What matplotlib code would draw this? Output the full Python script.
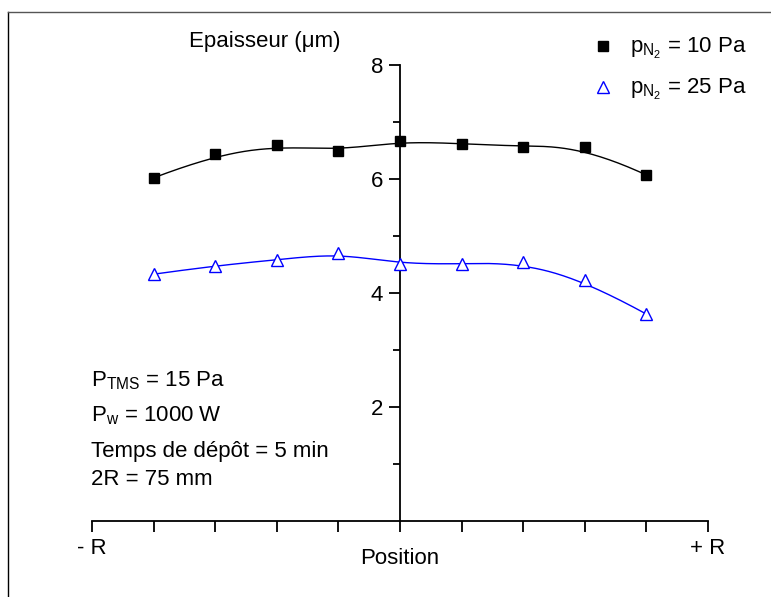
import numpy as np
import matplotlib
matplotlib.use("Agg")
import matplotlib.pyplot as plt
from matplotlib.lines import Line2D

plt.rcParams['font.family'] = ['Liberation Sans', 'DejaVu Sans']
plt.rcParams['mathtext.fontset'] = 'custom'
plt.rcParams['mathtext.rm'] = 'Liberation Sans'
plt.rcParams['mathtext.it'] = 'Liberation Sans'

# ---- data ----
positions = [-4, -3, -2, -1, 0, 1, 2, 3, 4]
thick_10pa = [6.02, 6.43, 6.59, 6.50, 6.66, 6.62, 6.57, 6.57, 6.07]
thick_25pa = [4.33, 4.48, 4.58, 4.70, 4.51, 4.51, 4.54, 4.22, 3.63]
label_10 = r'p$_{\mathrm{N}_{2}}$ = 10 Pa'
label_25 = r'p$_{\mathrm{N}_{2}}$ = 25 Pa'
xtick_vals = list(range(-5, 6))
xtick_labels = ['- R', '', '', '', '', '', '', '', '', '', '+ R']
ytick_major = [2, 4, 6, 8]
ytick_minor = [1, 3, 5, 7]
notes = [r'P$_{\mathrm{TMS}}$ = 15 Pa', r'P$_{\mathrm{w}}$ = 1000 W',
         'Temps de dépôt = 5 min', '2R = 75 mm']

FS = 16


def bspline_basis(x, knots, k):
    n = len(knots) - k - 1
    B = np.zeros((len(x), len(knots) - 1))
    for i in range(len(knots) - 1):
        if knots[i] < knots[i + 1]:
            B[:, i] = (x >= knots[i]) & (x < knots[i + 1])
    last = np.where(knots[:-1] < knots[1:])[0][-1]
    B[x >= knots[-1], last] = 1.0
    for d in range(1, k + 1):
        Bn = np.zeros((len(x), len(knots) - 1 - d))
        for i in range(len(knots) - 1 - d):
            t = np.zeros(len(x))
            den1 = knots[i + d] - knots[i]
            den2 = knots[i + d + 1] - knots[i + 1]
            if den1 > 0:
                t += (x - knots[i]) / den1 * B[:, i]
            if den2 > 0:
                t += (knots[i + d + 1] - x) / den2 * B[:, i + 1]
            Bn[:, i] = t
        B = Bn
    return B[:, :n]


def control_bspline(xs, ys, k=3):
    """Clamped cubic B-spline using the data points as control points."""
    m = len(xs)
    knots = np.r_[[0.0] * (k + 1), np.arange(1, m - k), [m - k] * (k + 1)].astype(float)
    t = np.linspace(0, m - k, 400)
    B = bspline_basis(t, knots, k)
    return B @ np.asarray(xs, float), B @ np.asarray(ys, float)


fig = plt.figure(figsize=(7.71, 5.97), dpi=100)
ax = fig.add_axes([92 / 771, 1 - 521 / 597, (708 - 92) / 771, (521 - 65) / 597])
ax.set_xlim(-5, 5)
ax.set_ylim(0, 8)

xf, yf = control_bspline(positions, thick_10pa)
ax.plot(xf, yf, color='black', lw=1.0, zorder=2)
xf, yf = control_bspline(positions, thick_25pa)
ax.plot(xf, yf, color='#0000ff', lw=1.0, zorder=2)

ax.plot(positions, thick_10pa, ls='none', marker='s', ms=7, color='black', zorder=3)
ax.plot(positions, thick_25pa, ls='none', marker='^', ms=9, mfc='white',
        mec='#0000ff', mew=1.0, zorder=3)

for s in ['top', 'right']:
    ax.spines[s].set_visible(False)
ax.spines['left'].set_position(('data', 0))
ax.spines['bottom'].set_position(('data', 0))
ax.spines['left'].set_linewidth(1.3)
ax.spines['bottom'].set_linewidth(1.3)

ax.set_xticks(xtick_vals)
ax.set_xticklabels(xtick_labels)
ax.set_yticks(ytick_major)
ax.set_yticks(ytick_minor, minor=True)
ax.tick_params(axis='x', direction='out', length=8, width=1.3, pad=4, labelsize=FS)
ax.tick_params(axis='y', which='major', direction='out', length=8, width=1.3, pad=4, labelsize=FS)
ax.tick_params(axis='y', which='minor', direction='out', length=5, width=1.3)

ax.set_xlabel('Position', fontsize=FS)
ax.xaxis.set_label_coords(0.5, -0.06)
fig.text(265 / 771, 1 - 42 / 597, 'Epaisseur (μm)', fontsize=FS, ha='center', va='center')

for (mk, kw), lab, yy in zip(
        [('s', dict(ms=7, color='black')),
         ('^', dict(ms=9, mfc='white', mec='#0000ff', mew=1.0))],
        [label_10, label_25], [53, 94]):
    fig.add_artist(Line2D([603 / 771], [1 - (yy - 7) / 597], ls='none', marker=mk,
                          transform=fig.transFigure, **kw))
    fig.text(630 / 771, 1 - yy / 597, lab, fontsize=FS, ha='left', va='baseline')

ys = [386, 421, 457, 485]
for txt, yy in zip(notes, ys):
    fig.text(91 / 771, 1 - yy / 597, txt, fontsize=FS, ha='left', va='baseline')

fig.add_artist(Line2D([8 / 771, 8 / 771], [0, 1 - 12 / 597], color='black', lw=1.0,
                      transform=fig.transFigure))
fig.add_artist(Line2D([8 / 771, 1], [1 - 12 / 597, 1 - 12 / 597], color='#555555', lw=1.0,
                      transform=fig.transFigure))

fig.savefig('out.png', dpi=100)
